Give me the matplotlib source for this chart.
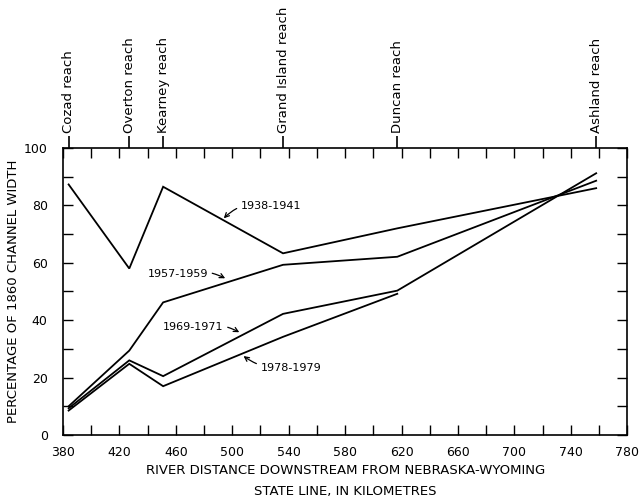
import matplotlib
matplotlib.use("Agg")
import matplotlib.pyplot as plt
import numpy as np

# Reach locations (km downstream)
reach_names = ["Cozad reach", "Overton reach", "Kearney reach",
               "Grand Island reach", "Duncan reach", "Ashland reach"]
reach_km = [384, 427, 451, 536, 617, 758]

# Series values (percentage of 1860 channel width)
km_1938 = [384, 427, 451, 536, 617, 758]
pct_1938 = [87.3, 58.0, 86.5, 63.3, 72.0, 86.0]

km_1957 = [384, 427, 451, 536, 617, 758]
pct_1957 = [10.0, 29.4, 46.2, 59.3, 62.1, 88.6]

km_1969 = [384, 427, 451, 536, 617, 758]
pct_1969 = [9.3, 26.0, 20.5, 42.2, 50.3, 91.2]

km_1978 = [384, 427, 451, 536, 617]
pct_1978 = [8.5, 24.8, 17.0, 34.2, 49.2]

x_ticks = list(range(380, 781, 40))
y_ticks = list(range(0, 101, 20))

fig = plt.figure(figsize=(6.4, 4.99), dpi=100)
ax = fig.add_axes([0.0984, 0.1283, 0.8816, 0.5751])

lw = 1.3
for xs, ys in [(km_1938, pct_1938), (km_1957, pct_1957),
               (km_1969, pct_1969), (km_1978, pct_1978)]:
    ax.plot(xs, ys, color="black", lw=lw, solid_joinstyle="miter")

ax.set_xlim(380, 780)
ax.set_ylim(0, 100)
ax.set_xticks(x_ticks)
ax.set_xticks(list(range(380, 781, 20)), minor=True)
ax.set_yticks(y_ticks)
ax.set_yticks(list(range(0, 101, 10)), minor=True)
ax.tick_params(which="both", direction="in", top=True, right=True,
               length=7, width=1, labelsize=9)
ax.tick_params(axis="x", which="both", pad=8)
ax.tick_params(axis="y", which="both", pad=11)
for s in ax.spines.values():
    s.set_linewidth(1.2)

ax.set_ylabel("PERCENTAGE OF 1860 CHANNEL WIDTH", fontsize=9.5)
ax.yaxis.set_label_coords(-0.077, 0.5)
fig.text(0.54, 0.058, "RIVER DISTANCE DOWNSTREAM FROM NEBRASKA-WYOMING",
         ha="center", va="center", fontsize=9.5)
fig.text(0.54, 0.016, "STATE LINE, IN KILOMETRES",
         ha="center", va="center", fontsize=9.5)

top = ax.secondary_xaxis("top")
top.set_xticks(reach_km)
top.set_xticklabels(reach_names, rotation=90, fontsize=9.5)
top.tick_params(direction="out", length=9, width=1.2, pad=2)
top.spines["top"].set_visible(False)

# Annotations
arrow = dict(arrowstyle="->", color="black", lw=0.9, shrinkA=1, shrinkB=0,
             connectionstyle="arc3,rad=0.3")
ax.annotate("1938-1941", xy=(494, 75.5), xytext=(506, 79.8), fontsize=8,
            va="center", ha="left", arrowprops=arrow)
ax.annotate("1957-1959", xy=(495, 54.6), xytext=(440, 56.1), fontsize=8,
            va="center", ha="left",
            arrowprops=dict(arrow, connectionstyle="arc3,rad=-0.2"))
ax.annotate("1969-1971", xy=(505, 35.8), xytext=(451, 37.7), fontsize=8,
            va="center", ha="left",
            arrowprops=dict(arrow, connectionstyle="arc3,rad=-0.2"))
ax.annotate("1978-1979", xy=(508, 27.5), xytext=(520, 23.2), fontsize=8,
            va="center", ha="left",
            arrowprops=dict(arrow, connectionstyle="arc3,rad=-0.2"))

fig.savefig("out.png", dpi=100)
